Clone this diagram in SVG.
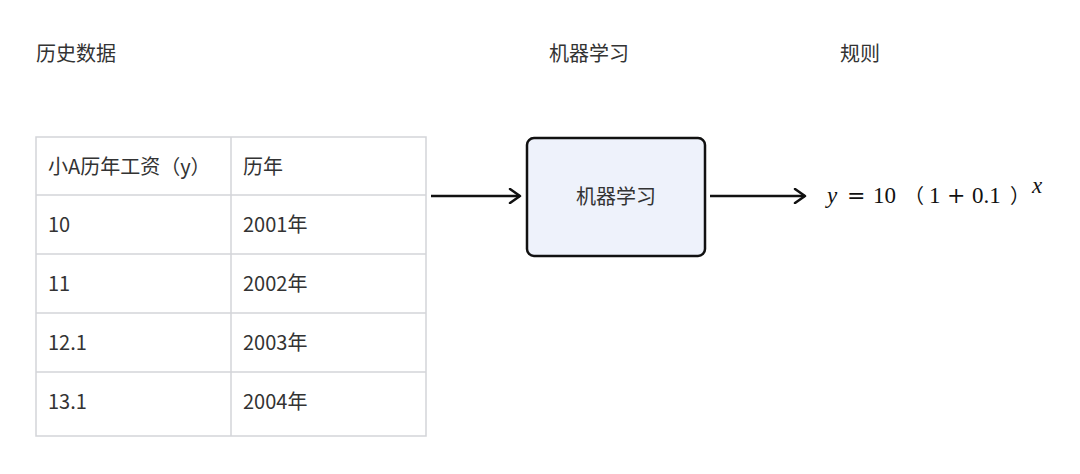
<svg xmlns="http://www.w3.org/2000/svg" width="1080" height="474" viewBox="0 0 1080 474">
<style>
.t{font-family:"Noto Sans CJK SC","Noto Sans",sans-serif;font-size:20px;fill:#333;}
.grid{stroke:#d3d5d9;stroke-width:1.5;fill:none;}
.conn{stroke:#111;stroke-width:2.5;fill:none;}
.m{font-family:"Liberation Serif","DejaVu Serif",serif;font-size:23px;fill:#111;}
.op{font-family:"DejaVu Serif",serif;font-size:22px;fill:#111;}
.p{font-family:"Noto Sans CJK SC",sans-serif;font-size:20px;fill:#111;}
</style>
<defs>
<marker id="ah" markerWidth="14" markerHeight="16" refX="12" refY="8" orient="auto" markerUnits="userSpaceOnUse">
<path d="M2,1 L12,8 L2,15" fill="none" stroke="#111" stroke-width="2.5" stroke-linecap="round" stroke-linejoin="round"/>
</marker>
</defs>
<g id="titles">
<text class="t" x="36" y="61">历史数据</text>
<text class="t" x="549" y="61">机器学习</text>
<text class="t" x="840" y="61">规则</text>
</g>
<g id="table">
<rect class="grid" x="36" y="137" width="390" height="299"/>
<line class="grid" x1="231" y1="137" x2="231" y2="436"/>
<line class="grid" x1="36" y1="195" x2="426" y2="195"/>
<line class="grid" x1="36" y1="254" x2="426" y2="254"/>
<line class="grid" x1="36" y1="313" x2="426" y2="313"/>
<line class="grid" x1="36" y1="372" x2="426" y2="372"/>
<text class="t" x="48" y="174">小A历年工资（y）</text>
<text class="t" x="243" y="174">历年</text>
<text class="t" x="48" y="232">10</text>
<text class="t" x="243" y="232">2001年</text>
<text class="t" x="48" y="291">11</text>
<text class="t" x="243" y="291">2002年</text>
<text class="t" x="48" y="350">12.1</text>
<text class="t" x="243" y="350">2003年</text>
<text class="t" x="48" y="409">13.1</text>
<text class="t" x="243" y="409">2004年</text>
</g>
<g id="ml">
<rect x="527" y="138" width="178" height="118" rx="7" fill="#eef2fb" stroke="#111" stroke-width="2.5"/>
<text class="t" x="616" y="204" text-anchor="middle">机器学习</text>
</g>
<g id="rule">
<text class="m" x="827" y="203" font-style="italic">y</text>
<text class="op" x="847" y="203">=</text>
<text class="m" x="873" y="203">10</text>
<text class="p" x="904" y="203">（</text>
<text class="m" x="929" y="203">1</text>
<text class="op" x="947" y="203">+</text>
<text class="m" x="972" y="203">0.1</text>
<text class="p" x="1010" y="203">）</text>
<text class="m" x="1032" y="193" font-size="12" font-style="italic">x</text>
</g>
<g id="connectors">
<line class="conn" x1="431" y1="196" x2="520" y2="196" marker-end="url(#ah)"/>
<line class="conn" x1="710" y1="196" x2="805" y2="196" marker-end="url(#ah)"/>
</g>
</svg>
